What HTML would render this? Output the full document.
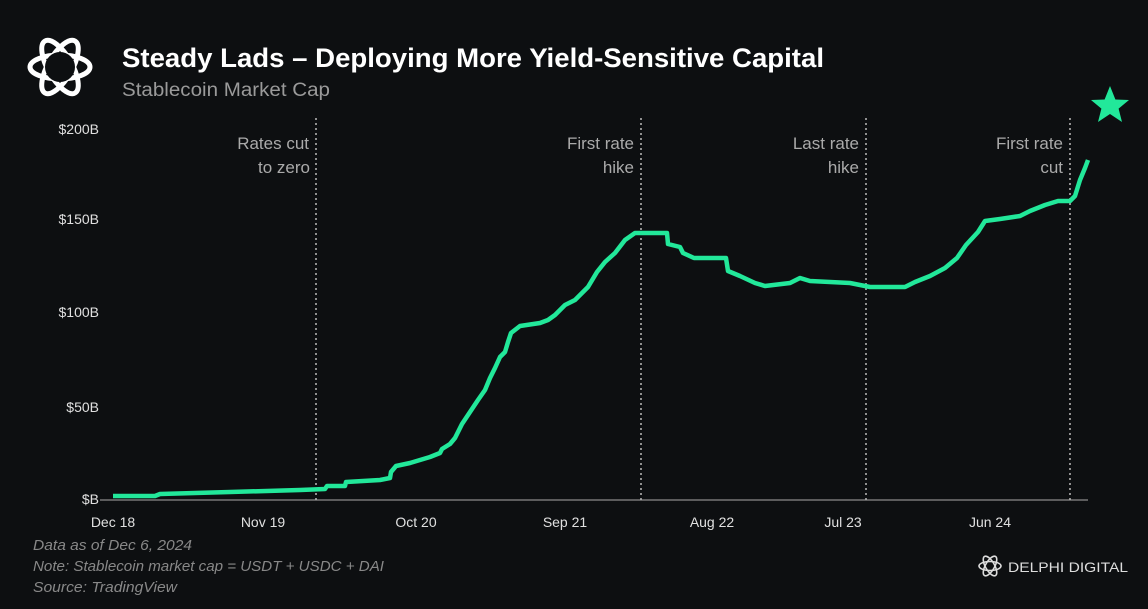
<!DOCTYPE html>
<html><head><meta charset="utf-8"><style>
html,body{margin:0;padding:0;background:#0d0f11;}
svg{display:block;font-family:"Liberation Sans",sans-serif;}
</style></head><body>
<svg width="1148" height="609" viewBox="0 0 1148 609" xmlns="http://www.w3.org/2000/svg">
<rect width="1148" height="609" fill="#0d0f11"/>
<g fill="none" stroke="#fff" stroke-width="5" transform="translate(60,67)">
<ellipse rx="30" ry="12" transform="rotate(0)"/>
<ellipse rx="30" ry="12" transform="rotate(60)"/>
<ellipse rx="30" ry="12" transform="rotate(120)"/>
</g>
<circle cx="60" cy="67" r="15" fill="#0d0f11"/>
<text x="122" y="67" fill="#fff" font-size="27" font-weight="bold" textLength="702" lengthAdjust="spacingAndGlyphs">Steady Lads – Deploying More Yield-Sensitive Capital</text>
<text x="122" y="96" fill="#9a9a9a" font-size="19" textLength="208" lengthAdjust="spacingAndGlyphs">Stablecoin Market Cap</text>
<polygon fill="#22e89a" points="1110,86 1115.4,99.5 1129,100 1118.6,108.6 1122,122 1110,114 1098,122 1101.4,108.6 1091,100 1104.6,99.5"/>
<g fill="#e0e0e0" font-size="14" text-anchor="end">
<text x="99" y="134">$200B</text>
<text x="99" y="224">$150B</text>
<text x="99" y="317">$100B</text>
<text x="99" y="412">$50B</text>
<text x="99" y="504">$B</text>
</g>
<line x1="100" y1="500" x2="1088" y2="500" stroke="#777" stroke-width="1.5"/>
<g stroke="#bbb" stroke-width="1.5" stroke-dasharray="2,3">
<line x1="316" y1="118" x2="316" y2="500"/>
<line x1="641" y1="118" x2="641" y2="500"/>
<line x1="866" y1="118" x2="866" y2="500"/>
<line x1="1070" y1="118" x2="1070" y2="500"/>
</g>
<g fill="#aaa" font-size="17" text-anchor="end">
<text x="309" y="149">Rates cut</text><text x="310" y="173">to zero</text>
<text x="634" y="149">First rate</text><text x="634" y="173">hike</text>
<text x="859" y="149">Last rate</text><text x="859" y="173">hike</text>
<text x="1063" y="149">First rate</text><text x="1063" y="173">cut</text>
</g>
<g fill="#e0e0e0" font-size="14" text-anchor="middle">
<text x="113" y="527">Dec 18</text><text x="263" y="527">Nov 19</text><text x="416" y="527">Oct 20</text>
<text x="565" y="527">Sep 21</text><text x="712" y="527">Aug 22</text><text x="843" y="527">Jul 23</text><text x="990" y="527">Jun 24</text>
</g>
<polyline fill="none" stroke="#22e89a" stroke-width="4.5" stroke-linejoin="round" points="113,496 155,496 160,494 230,492 300,490 325,489 327,486 345,486 346,482 380,480 390,478 391,472 396,466 410,463 430,457 440,453 442,449 450,444 455,438 462,424 470,412 478,400 485,390 490,378 495,368 500,357 505,352 508,342 511,333 520,326 540,323 548,320 555,315 565,305 575,300 583,292 588,287 597,272 605,262 615,253 625,240 635,233 650,233 667,233 668,244 680,247 683,253 694,258 726,258 728,271 740,276 755,283 765,286 790,283 800,278 810,281 850,283 870,287 905,287 915,282 930,276 945,268 957,258 966,245 978,232 985,221 1000,219 1020,216 1030,211 1045,205 1058,201 1070,201 1075,196 1080,180 1085,168 1088,160"/>
<g fill="#888" font-size="15" font-style="italic">
<text x="33" y="550" textLength="159" lengthAdjust="spacingAndGlyphs">Data as of Dec 6, 2024</text>
<text x="33" y="571" textLength="351" lengthAdjust="spacingAndGlyphs">Note: Stablecoin market cap = USDT + USDC + DAI</text>
<text x="33" y="592" textLength="144" lengthAdjust="spacingAndGlyphs">Source: TradingView</text>
</g>
<g fill="none" stroke="#ddd" stroke-width="1.6" transform="translate(990,566)">
<ellipse rx="11" ry="4.5"/><ellipse rx="11" ry="4.5" transform="rotate(60)"/><ellipse rx="11" ry="4.5" transform="rotate(120)"/>
</g>
<text x="1008" y="572" fill="#ddd" font-size="14" textLength="120" lengthAdjust="spacingAndGlyphs">DELPHI DIGITAL</text>
</svg>
</body></html>
